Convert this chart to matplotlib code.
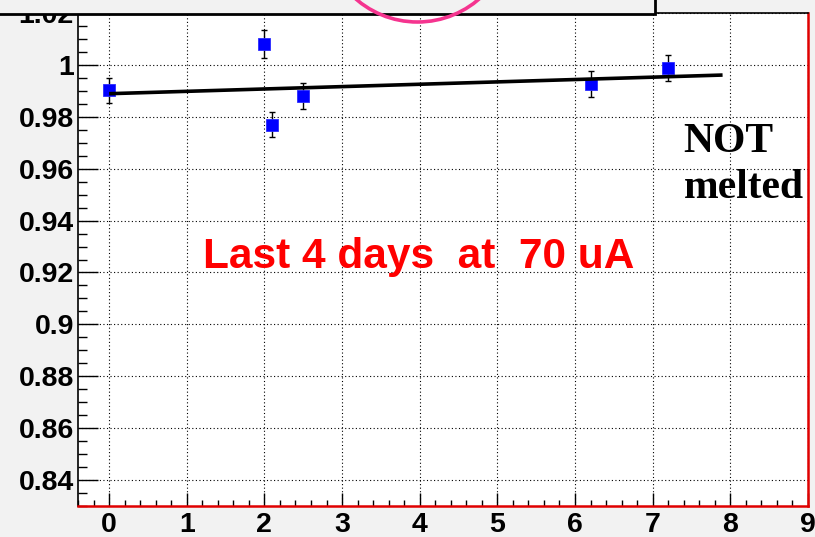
import matplotlib
matplotlib.use("Agg")
import matplotlib.pyplot as plt
from matplotlib.patches import Rectangle, Ellipse
from matplotlib.ticker import MultipleLocator
import numpy as np

# ---- data ----
x_vals = [0.0, 2.0, 2.1, 2.5, 6.2, 7.2]
y_vals = [0.9903, 1.0080, 0.9770, 0.9880, 0.9926, 0.9987]
y_errs = [0.0048, 0.0053, 0.0047, 0.0050, 0.0050, 0.0050]
fit_x = [0.0, 7.9]
fit_intercept = 0.9889
fit_slope = 0.00091
x_ticks = [0, 1, 2, 3, 4, 5, 6, 7, 8, 9]
y_ticks = [0.84, 0.86, 0.88, 0.90, 0.92, 0.94, 0.96, 0.98, 1.00, 1.02]
y_ticklabels = ["0.84", "0.86", "0.88", "0.9", "0.92", "0.94", "0.96", "0.98", "1", "1.02"]
annot_red = "Last 4 days  at  70 uA"
annot_black = ["NOT", "melted"]

W, H = 815, 537
fig = plt.figure(figsize=(W / 100, H / 100), dpi=100, facecolor="#f2f2f2")
ax = fig.add_axes([78 / W, 31 / H, (808 - 78) / W, (506 - 13) / H])
ax.set_facecolor("white")
ax.set_xlim(-0.4, 9.0)
ax.set_ylim(0.83, 1.02)

ax.set_xticks(x_ticks)
ax.set_yticks(y_ticks)
ax.set_yticklabels(y_ticklabels)
ax.xaxis.set_minor_locator(MultipleLocator(0.2))
ax.yaxis.set_minor_locator(MultipleLocator(0.005))
ax.grid(True, which="major", color="black", linestyle=(0, (1, 2.2)), linewidth=0.8)
ax.set_axisbelow(True)

for lab in ax.get_xticklabels() + ax.get_yticklabels():
    lab.set_fontfamily("Liberation Sans")
    lab.set_fontweight("bold")
    lab.set_fontsize(20.5)
ax.tick_params(axis="x", which="major", direction="in", length=9.5, width=1, pad=4, top=False)
ax.tick_params(axis="x", which="minor", direction="in", length=4.3, width=1, top=False)
ax.tick_params(axis="y", which="major", direction="in", length=14.5, width=1, pad=3, right=False)
ax.tick_params(axis="y", which="minor", direction="in", length=6.5, width=1, right=False)

for s in ["left", "top"]:
    ax.spines[s].set_color("black")
    ax.spines[s].set_linewidth(1.2)
for s in ["bottom", "right"]:
    ax.spines[s].set_color("#e00000")
    ax.spines[s].set_linewidth(1.8)

# data points
ax.errorbar(x_vals, y_vals, yerr=y_errs, fmt="none", ecolor="black",
            elinewidth=1, capsize=2.5, capthick=1, zorder=3)
ax.plot(x_vals, y_vals, linestyle="none", marker="s", markersize=9,
        markerfacecolor="#0000ff", markeredgecolor="#2a2aff", markeredgewidth=0.6, zorder=4)

# fit line
fx = np.array(fit_x)
ax.plot(fx, fit_intercept + fit_slope * fx, color="black", linewidth=2.6, zorder=5,
        solid_capstyle="butt")

# annotations
ax.text(1.21, 0.9216, annot_red, color="#ff0000", fontsize=30.5, fontweight="bold",
        family="Liberation Sans", va="baseline", ha="left", zorder=6)
ax.text(7.40, 0.9664, annot_black[0], color="black", fontsize=30, fontweight="bold",
        family="Liberation Serif", va="baseline", ha="left", clip_on=False, zorder=6)
ax.text(7.40, 0.9488, annot_black[1], color="black", fontsize=30, fontweight="bold",
        family="Liberation Serif", va="baseline", ha="left", clip_on=False, zorder=6)

# top box (partially visible pave) and pink circle
box = Rectangle((-0.02, 1 - 14 / H), (655 / W) + 0.02, 0.1, transform=fig.transFigure,
                facecolor="#f2f2f2", edgecolor="black", linewidth=2, zorder=10)
fig.add_artist(box)
circ = Ellipse((417.5 / W, 1 + 72 / H), 2 * 94 / W, 2 * 94 / H, transform=fig.transFigure,
               facecolor="none", edgecolor="#f5348f", linewidth=2.6, zorder=11)
fig.add_artist(circ)

fig.savefig("out.png", dpi=100, facecolor=fig.get_facecolor())
